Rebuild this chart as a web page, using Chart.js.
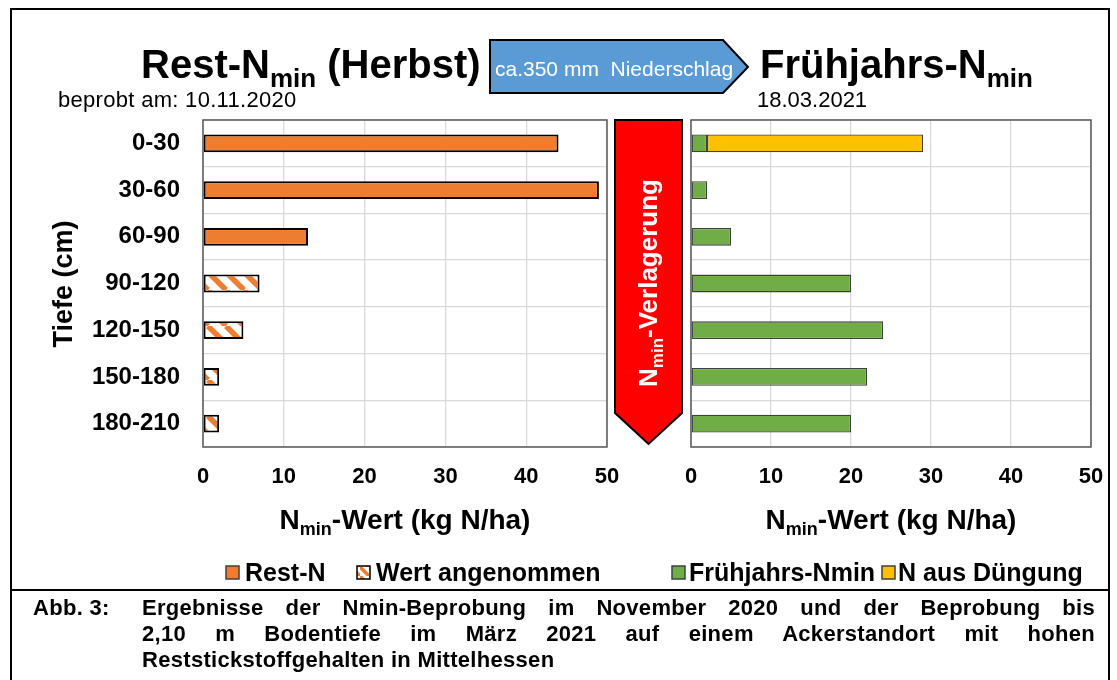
<!DOCTYPE html>
<html>
<head>
<meta charset="utf-8">
<script src="https://cdn.jsdelivr.net/npm/chart.js@4.4.1/dist/chart.umd.min.js"></script>
<style>
  html, body { margin:0; padding:0; background:#fff; }
  #wrap { position:relative; width:1117px; height:680px; overflow:hidden; background:#fff; font-family:'Liberation Sans', Arial, sans-serif; }
  canvas { position:absolute; }
  #c1 { left:10px; top:110px; }
  #c2 { left:680px; top:110px; }
  svg { position:absolute; left:0; top:0; pointer-events:none; }
  .cap { position:absolute; font-weight:bold; font-size:22px; line-height:26px; color:#000; letter-spacing:0.3px; }
  .just { text-align:justify; text-align-last:justify; }
</style>
</head>
<body>
<div id="wrap">
  <canvas id="c1" width="610" height="390"></canvas>
  <canvas id="c2" width="430" height="390"></canvas>
  <svg width="1117" height="680" xmlns="http://www.w3.org/2000/svg" font-family="Liberation Sans, Arial, sans-serif">
    <defs>
      <pattern id="lh" patternUnits="userSpaceOnUse" width="9" height="9">
        <rect width="9" height="9" fill="#fff"/>
        <path d="M-4,-4 L13,13" stroke="#ED7D31" stroke-width="3.5"/>
      </pattern>
    </defs>
    <!-- outer frame and separator -->
    <rect x="11" y="9" width="1098" height="700" fill="none" stroke="#000" stroke-width="2"/>
    <line x1="11" y1="590" x2="1109" y2="590" stroke="#000" stroke-width="2"/>

    <!-- headings -->
    <text x="141" y="78" font-size="40" font-weight="bold">Rest-N<tspan dy="9" font-size="26">min</tspan><tspan dy="-9"> (Herbst)</tspan></text>
    <text x="58" y="107" font-size="22" letter-spacing="0.3">beprobt am: 10.11.2020</text>
    <polygon points="490,40 723,40 748,67 723,93 490,93" fill="#5B9BD5" stroke="#000" stroke-width="2"/>
    <text x="495" y="76" font-size="21" fill="#fff" style="white-space:pre">ca.350 mm  Niederschlag</text>
    <text x="760" y="78" font-size="40" font-weight="bold">Frühjahrs-N<tspan dy="9" font-size="26">min</tspan></text>
    <text x="757" y="107" font-size="22">18.03.2021</text>

    <!-- red arrow -->
    <polygon points="615,120 682,120 682,413 648.5,444 615,413" fill="#FF0000" stroke="#000" stroke-width="2"/>
    <text transform="translate(657,283) rotate(-90)" text-anchor="middle" font-size="26" font-weight="bold" fill="#fff">N<tspan dy="6" font-size="17">min</tspan><tspan dy="-6">-Verlagerung</tspan></text>

    <!-- axis titles -->
    <text transform="translate(72,284) rotate(-90)" text-anchor="middle" font-size="27" font-weight="bold">Tiefe (cm)</text>
    <text x="405" y="529" text-anchor="middle" font-size="28" font-weight="bold">N<tspan dy="6" font-size="18">min</tspan><tspan dy="-6">-Wert (kg N/ha)</tspan></text>
    <text x="891" y="529" text-anchor="middle" font-size="28" font-weight="bold">N<tspan dy="6" font-size="18">min</tspan><tspan dy="-6">-Wert (kg N/ha)</tspan></text>

    <!-- legends -->
    <rect x="226" y="566" width="13" height="13" fill="#ED7D31" stroke="#404040" stroke-width="1.5"/>
    <text x="245" y="581" font-size="25" font-weight="bold">Rest-N</text>
    <rect x="357" y="566" width="13" height="13" fill="url(#lh)" stroke="#000" stroke-width="1.5"/>
    <text x="376" y="581" font-size="25" font-weight="bold">Wert angenommen</text>
    <rect x="672" y="566" width="13" height="13" fill="#70AD47" stroke="#404040" stroke-width="1.5"/>
    <text x="689" y="581" font-size="25" font-weight="bold">Frühjahrs-Nmin</text>
    <rect x="882" y="566" width="13" height="13" fill="#FFC000" stroke="#404040" stroke-width="1.5"/>
    <text x="898" y="581" font-size="25" font-weight="bold">N aus Düngung</text>
  </svg>
  <div class="cap" style="left:33px; top:595px;">Abb. 3:</div>
  <div class="cap just" style="left:142px; top:595px; width:953px;">Ergebnisse der Nmin-Beprobung im November 2020 und der Beprobung bis</div>
  <div class="cap just" style="left:142px; top:621px; width:953px;">2,10 m Bodentiefe im März 2021 auf einem Ackerstandort mit hohen</div>
  <div class="cap" style="left:142px; top:647px;">Reststickstoffgehalten in Mittelhessen</div>
</div>
<script>
// ---- data ----
const depths = ['0-30', '30-60', '60-90', '90-120', '120-150', '150-180', '180-210'];
const restN = [44, 49, 13, null, null, null, null];          // Rest-N (Herbst), measured
const restAssumed = [null, null, null, 7, 5, 2, 2];          // Wert angenommen
const springN = [2, 2, 5, 20, 24, 22, 20];                   // Frühjahrs-Nmin
const fertN = [27, null, null, null, null, null, null];      // N aus Düngung
const xTickValues = [0, 10, 20, 30, 40, 50];

const ORANGE = '#ED7D31', GREEN = '#70AD47', YELLOW = '#FFC000';
const FONT = 'Liberation Sans';

function makeHatch() {
  const s = 18;
  const c = document.createElement('canvas');
  c.width = s; c.height = s;
  const g = c.getContext('2d');
  g.fillStyle = '#fff'; g.fillRect(0, 0, s, s);
  g.strokeStyle = ORANGE; g.lineWidth = 5.5;
  g.beginPath();
  for (const x0 of [-s, 0, s]) { g.moveTo(x0, 0); g.lineTo(x0 + s, s); }
  g.stroke();
  return c.getContext('2d').createPattern(c, 'repeat');
}

const framePlugin = {
  id: 'frame',
  afterDatasetsDraw(chart) {
    const a = chart.chartArea, ctx = chart.ctx;
    ctx.save();
    ctx.strokeStyle = '#595959'; ctx.lineWidth = 1.5;
    ctx.strokeRect(a.left, a.top, a.right - a.left, a.bottom - a.top);
    ctx.restore();
  }
};

function xScale() {
  return {
    type: 'linear', min: 0, max: 50, stacked: true,
    afterBuildTicks: s => { s.ticks = xTickValues.map(v => ({ value: v })); },
    ticks: { padding: 17, color: '#000', font: { family: FONT, size: 22, weight: 'bold' } },
    grid: { color: '#D9D9D9', lineWidth: 1.3, drawTicks: false },
    border: { display: false },
    afterFit: s => { s.height = 53; s.paddingLeft = 0; s.paddingRight = 0; }
  };
}

function yScale(showLabels, width) {
  return {
    stacked: true,
    ticks: { display: showLabels, padding: 23, color: '#000', font: { family: FONT, size: 24, weight: 'bold' } },
    grid: { color: '#D9D9D9', lineWidth: 1.3, drawTicks: false, offset: true },
    border: { display: false },
    afterFit: s => { s.width = width; s.paddingTop = 0; s.paddingBottom = 0; }
  };
}

const common = {
  indexAxis: 'y', responsive: false, animation: false, devicePixelRatio: 1,
  plugins: { legend: { display: false }, tooltip: { enabled: false } },
  datasets: { bar: { categoryPercentage: 1, barPercentage: 0.38 } }
};

new Chart(document.getElementById('c1'), {
  type: 'bar',
  data: {
    labels: depths,
    datasets: [
      { label: 'Rest-N', data: restN, backgroundColor: ORANGE, borderColor: '#000', borderWidth: 2, borderSkipped: false },
      { label: 'Wert angenommen', data: restAssumed, backgroundColor: makeHatch(), borderColor: '#000', borderWidth: 2, borderSkipped: false }
    ]
  },
  options: Object.assign({}, common, {
    layout: { padding: { top: 10, right: 13, left: 0, bottom: 0 } },
    scales: { x: xScale(), y: yScale(true, 193) }
  }),
  plugins: [framePlugin]
});

new Chart(document.getElementById('c2'), {
  type: 'bar',
  data: {
    labels: depths,
    datasets: [
      { label: 'Frühjahrs-Nmin', data: springN, backgroundColor: GREEN, borderColor: '#404040', borderWidth: 1.3, borderSkipped: false },
      { label: 'N aus Düngung', data: fertN, backgroundColor: YELLOW, borderColor: '#404040', borderWidth: 1.3, borderSkipped: false }
    ]
  },
  options: Object.assign({}, common, {
    layout: { padding: { top: 10, right: 19, left: 11, bottom: 0 } },
    scales: { x: xScale(), y: yScale(false, 0) }
  }),
  plugins: [framePlugin]
});
</script>
</body>
</html>
